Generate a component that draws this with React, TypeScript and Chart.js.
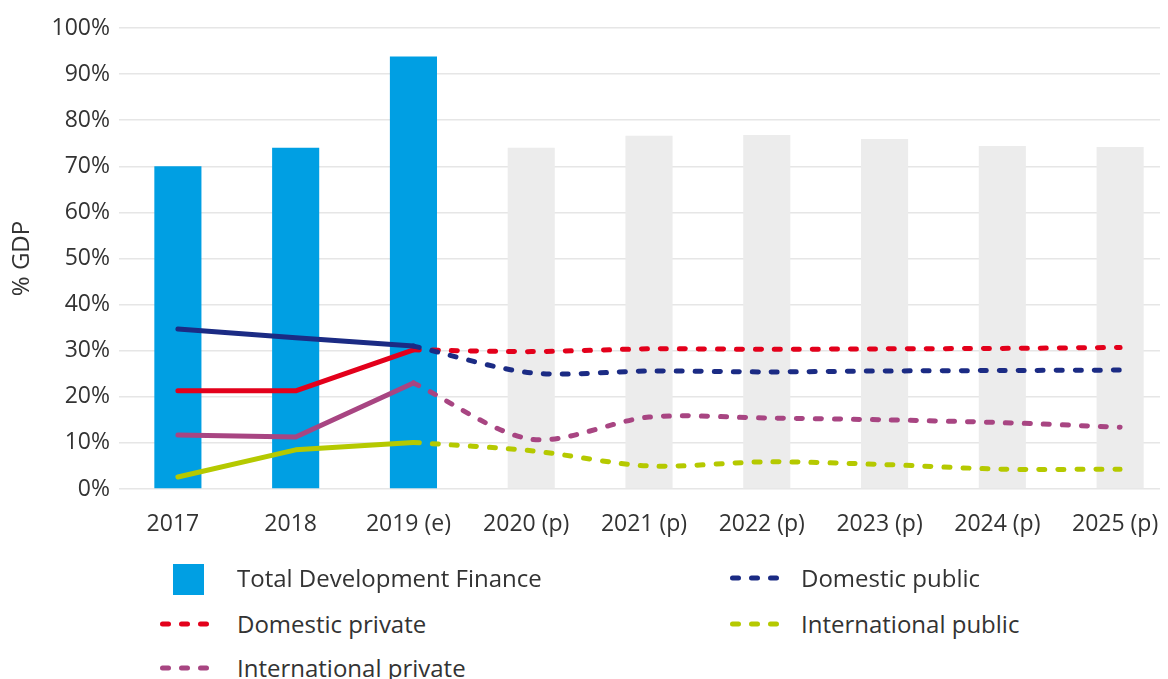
import React, { useEffect, useRef } from "react";
import { Chart, registerables } from "chart.js";

Chart.register(...registerables);

const categories = ["2017", "2018", "2019 (e)", "2020 (p)", "2021 (p)", "2022 (p)", "2023 (p)", "2024 (p)", "2025 (p)"];
const totalFinance = [70.0, 74.0, 93.8, 74.0, 76.6, 76.8, 75.9, 74.4, 74.2];
const domesticPublic = [34.7, 32.8, 31.0, 25.2, 25.6, 25.4, 25.6, 25.7, 25.8];
const domesticPrivate = [21.3, 21.3, 30.2, 29.8, 30.4, 30.3, 30.4, 30.5, 30.7];
const internationalPrivate = [11.7, 11.3, 23.0, 10.8, 15.6, 15.4, 15.0, 14.4, 13.4];
const internationalPublic = [2.6, 8.5, 10.1, 8.3, 5.0, 5.9, 5.3, 4.3, 4.3];
const yTicks = [0, 10, 20, 30, 40, 50, 60, 70, 80, 90, 100];
const actualCount = 3; // 2017..2019 are actual/estimate, rest projections

const BLUE = "#009fe3";
const GREY = "#ececec";
const NAVY = "#1b2b84";
const RED = "#e3001b";
const PURPLE = "#a84582";
const GREEN = "#b5c900";
const TEXT = "#333333";
const FONT = "'Open Sans', 'Noto Sans', sans-serif";

const W = 1171;
const H = 561;

const lineSeries = [
  { label: "Domestic public", data: domesticPublic, color: NAVY },
  { label: "Domestic private", data: domesticPrivate, color: RED },
  { label: "International private", data: internationalPrivate, color: PURPLE },
  { label: "International public", data: internationalPublic, color: GREEN },
];

function DashSwatch({ color }: { color: string }) {
  return (
    <svg width="54" height="10" style={{ display: "block" }}>
      <line x1="2.5" y1="5" x2="52" y2="5" stroke={color} strokeWidth="5" strokeLinecap="round" strokeDasharray="6 13" />
    </svg>
  );
}

export default function App() {
  const canvasRef = useRef<HTMLCanvasElement | null>(null);

  useEffect(() => {
    if (!canvasRef.current) return;
    const datasets: any[] = [];
    lineSeries.forEach((s) => {
      datasets.push({
        type: "line",
        label: s.label + " (actual)",
        data: s.data.map((v, i) => (i < actualCount ? v : null)),
        borderColor: s.color,
        backgroundColor: s.color,
        borderWidth: 5,
        pointRadius: 0,
        tension: 0,
        borderCapStyle: "round",
        borderJoinStyle: "round",
        order: 0,
      });
      datasets.push({
        type: "line",
        label: s.label,
        data: s.data.map((v, i) => (i >= actualCount - 1 ? v : null)),
        borderColor: s.color,
        backgroundColor: s.color,
        borderWidth: 5,
        borderDash: [6, 13],
        borderCapStyle: "round",
        pointRadius: 0,
        tension: 0.3,
        order: 0,
      });
    });
    datasets.push({
      type: "bar",
      label: "Total Development Finance",
      data: totalFinance,
      backgroundColor: totalFinance.map((_, i) => (i < actualCount ? BLUE : GREY)),
      barPercentage: 0.4,
      categoryPercentage: 1,
      order: 10,
    });

    const chart = new Chart(canvasRef.current, {
      type: "bar",
      data: { labels: categories, datasets },
      options: {
        animation: false,
        responsive: false,
        maintainAspectRatio: false,
        layout: { padding: { top: 20, right: 0, left: 0, bottom: 0 } },
        plugins: { legend: { display: false }, tooltip: { enabled: false } },
        scales: {
          x: {
            grid: { display: false, drawTicks: false },
            border: { display: false },
            ticks: { color: TEXT, font: { family: FONT, size: 23 }, padding: 22, maxRotation: 0, labelOffset: -5 },
            afterFit: (scale: any) => {
              scale.height = 80;
              scale.paddingLeft = 0;
              scale.paddingRight = 0;
            },
          },
          y: {
            min: 0,
            max: 100,
            afterBuildTicks: (scale: any) => {
              scale.ticks = yTicks.map((v) => ({ value: v }));
            },
            grid: { color: "#e6e6e6", lineWidth: 1.5, drawTicks: false },
            border: { display: false },
            ticks: {
              color: TEXT,
              font: { family: FONT, size: 23 },
              padding: 9,
              callback: (v: any) => v + "%",
            },
            title: {
              display: true,
              text: "% GDP",
              color: TEXT,
              font: { family: FONT, size: 24 },
              padding: { top: 0, bottom: 0 },
            },
            afterFit: (scale: any) => {
              scale.width = 111;
              scale.paddingTop = 0;
              scale.paddingBottom = 0;
            },
          },
        },
      },
    });
    return () => chart.destroy();
  }, []);

  const textStyle: React.CSSProperties = {
    position: "absolute",
    fontFamily: FONT,
    fontSize: 24,
    color: TEXT,
    lineHeight: "30px",
    whiteSpace: "nowrap",
  };

  return (
    <div style={{ position: "relative", width: W, height: 671, overflow: "hidden" }}>
      <canvas ref={canvasRef} width={W} height={H} style={{ position: "absolute", left: 0, top: 0, width: W, height: H, display: "block" }} />
      <div style={{ position: "absolute", left: 165, top: 556, width: 31, height: 31, background: BLUE }} />
      <div style={{ ...textStyle, left: 229, top: 555 }}>Total Development Finance</div>
      <div style={{ position: "absolute", left: 152, top: 611 }}>
        <DashSwatch color={RED} />
      </div>
      <div style={{ ...textStyle, left: 229, top: 601 }}>Domestic private</div>
      <div style={{ position: "absolute", left: 152, top: 655 }}>
        <DashSwatch color={PURPLE} />
      </div>
      <div style={{ ...textStyle, left: 229, top: 645 }}>International private</div>
      <div style={{ position: "absolute", left: 722, top: 565 }}>
        <DashSwatch color={NAVY} />
      </div>
      <div style={{ ...textStyle, left: 793, top: 555 }}>Domestic public</div>
      <div style={{ position: "absolute", left: 722, top: 611 }}>
        <DashSwatch color={GREEN} />
      </div>
      <div style={{ ...textStyle, left: 793, top: 601 }}>International public</div>
    </div>
  );
}
